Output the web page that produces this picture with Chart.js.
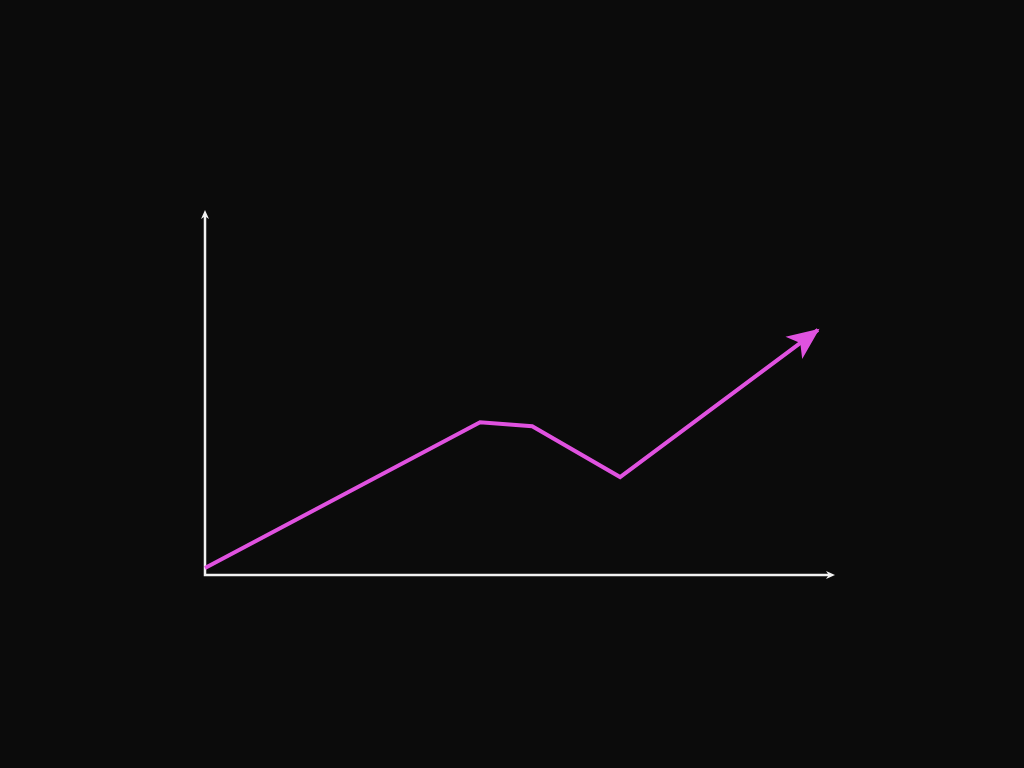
<!DOCTYPE html>
<html>
<head>
<meta charset="utf-8">
<script src="https://cdn.jsdelivr.net/npm/chart.js@4/dist/chart.umd.min.js"></script>
<style>
  html, body { margin: 0; padding: 0; background: #0b0b0b; }
  #wrap { width: 1024px; height: 768px; }
</style>
</head>
<body>
<div id="wrap"><canvas id="trendChart"></canvas></div>
<script>
// values (axis units 0..100)
const xValues = [0, 43.8, 52.1, 66.1, 97.6];
const yValues = [1.9, 42.1, 41.0, 27.0, 67.5];

const lineColor = '#e052e0';
const axisColor = '#f2f2f2';

const arrowHead = (ctx, x, y, angle, len, half, notch, color) => {
  ctx.save();
  ctx.translate(x, y);
  ctx.rotate(angle);
  ctx.fillStyle = color;
  ctx.beginPath();
  ctx.moveTo(0, 0);
  ctx.lineTo(-len, -half);
  ctx.lineTo(-len * notch, 0);
  ctx.lineTo(-len, half);
  ctx.closePath();
  ctx.fill();
  ctx.restore();
};

// axes with arrows, drawn on the chart area edges
const axesPlugin = {
  id: 'axes',
  beforeDatasetsDraw(chart) {
    const { ctx, chartArea: a } = chart;
    ctx.save();
    ctx.strokeStyle = axisColor;
    ctx.lineWidth = 2.5;
    ctx.beginPath();
    ctx.moveTo(a.left, a.top + 4);
    ctx.lineTo(a.left, a.bottom);
    ctx.lineTo(a.right - 4, a.bottom);
    ctx.stroke();
    ctx.restore();
    arrowHead(ctx, a.left, a.top - 2, -Math.PI / 2, 9, 4, 0.7, axisColor);
    arrowHead(ctx, a.right + 2, a.bottom, 0, 9, 4, 0.7, axisColor);
  },
  afterDatasetsDraw(chart) {
    const pts = chart.getDatasetMeta(0).data;
    const p1 = pts[pts.length - 2], p2 = pts[pts.length - 1];
    const ang = Math.atan2(p2.y - p1.y, p2.x - p1.x);
    arrowHead(chart.ctx, p2.x + 2 * Math.cos(ang), p2.y + 2 * Math.sin(ang), ang, 32, 14, 0.75, lineColor);
  }
};

new Chart(document.getElementById('trendChart'), {
  type: 'line',
  data: {
    labels: xValues,
    datasets: [{
      data: xValues.map((x, i) => ({ x, y: yValues[i] })),
      borderColor: lineColor,
      borderWidth: 4,
      pointRadius: 0,
      tension: 0,
      clip: false
    }]
  },
  options: {
    responsive: true,
    maintainAspectRatio: false,
    animation: false,
    layout: { padding: { left: 205, right: 191, top: 212, bottom: 193 } },
    plugins: { legend: { display: false }, tooltip: { enabled: false } },
    scales: {
      x: { type: 'linear', min: 0, max: 100, display: false },
      y: { min: 0, max: 100, display: false }
    }
  },
  plugins: [axesPlugin]
});
</script>
</body>
</html>
